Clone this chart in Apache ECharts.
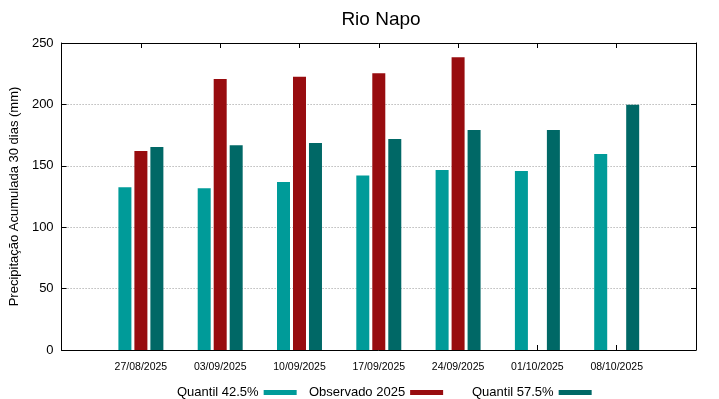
<!DOCTYPE html>
<html>
<head>
<meta charset="utf-8">
<script src="https://cdn.jsdelivr.net/npm/echarts@6/dist/echarts.min.js"></script>
<style>
  html, body { margin: 0; padding: 0; background: #fff; }
  #chart { width: 719px; height: 399px; }
</style>
</head>
<body>
<div id="chart"></div>
<script>
// datas (empty slots at both ends leave the half-gap seen in the original)
const dates = ["", "27/08/2025", "03/09/2025", "10/09/2025", "17/09/2025", "24/09/2025", "01/10/2025", "08/10/2025", ""];
const quantil425 = [null, 132.5, 131.7, 136.8, 142.0, 146.6, 145.8, 159.6, null];
const observado = [null, 162.0, 220.7, 222.6, 225.3, 238.3, null, null, null];
const quantil575 = [null, 165.3, 166.7, 168.6, 171.8, 179.2, 179.2, 199.8, null];
const yTicks = { min: 0, max: 250, step: 50 };

const font = "Liberation Sans, Arial, sans-serif";
const chart = echarts.init(document.getElementById("chart"));

const barStyle = (color) => ({
  type: "bar",
  barWidth: 13,
  barGap: "23%",
  itemStyle: { color: color },
});

// uma legenda por serie, para acertar o espacamento
const legendItem = (name, left) => ({
  top: 381,
  left: left,
  align: "right",
  itemWidth: 33,
  itemHeight: 5,
  icon: "rect",
  textStyle: { fontFamily: font, fontSize: 13, color: "#000" },
  data: [name],
});

const frameAxis = { onZero: false, lineStyle: { color: "#000", width: 1 } };
const frameTick = { show: true, inside: true, length: 5, lineStyle: { color: "#000" } };

const option = {
  backgroundColor: "#fff",
  animation: false,
  title: {
    text: "Rio Napo",
    left: 376,
    top: 5,
    textAlign: "center",
    textStyle: { fontFamily: font, fontSize: 19, fontWeight: "normal", color: "#000" },
  },
  legend: [
    legendItem("Quantil 42.5%", 172),
    legendItem("Observado 2025", 304),
    legendItem("Quantil 57.5%", 467),
  ],
  grid: { left: 59, right: 23, top: 43, bottom: 49 },
  xAxis: [
    {
      type: "category",
      data: dates,
      boundaryGap: false,
      axisLine: frameAxis,
      axisTick: frameTick,
      axisLabel: { fontFamily: font, fontSize: 10.5, color: "#000", margin: 12 },
    },
    {
      type: "category",
      data: dates,
      position: "top",
      boundaryGap: false,
      axisLine: frameAxis,
      axisTick: frameTick,
      axisLabel: { show: false },
    },
  ],
  yAxis: [
    {
      type: "value",
      min: yTicks.min,
      max: yTicks.max,
      interval: yTicks.step,
      name: "Precipitação Acumulada 30 dias (mm)",
      nameLocation: "middle",
      nameGap: 34,
      nameTextStyle: { fontFamily: font, fontSize: 13, color: "#000" },
      axisLine: Object.assign({ show: true }, frameAxis),
      axisTick: frameTick,
      axisLabel: { fontFamily: font, fontSize: 13, color: "#000", margin: 8 },
      splitLine: { show: true, lineStyle: { color: "#999", type: [1, 2] } },
    },
    {
      type: "value",
      min: yTicks.min,
      max: yTicks.max,
      interval: yTicks.step,
      position: "right",
      axisLine: Object.assign({ show: true }, frameAxis),
      axisTick: frameTick,
      axisLabel: { show: false },
      splitLine: { show: false },
    },
  ],
  series: [
    Object.assign(barStyle("#009b99"), { name: "Quantil 42.5%", data: quantil425 }),
    Object.assign(barStyle("#980c0f"), { name: "Observado 2025", data: observado }),
    Object.assign(barStyle("#006866"), { name: "Quantil 57.5%", data: quantil575 }),
  ],
};

chart.setOption(option);
</script>
</body>
</html>
